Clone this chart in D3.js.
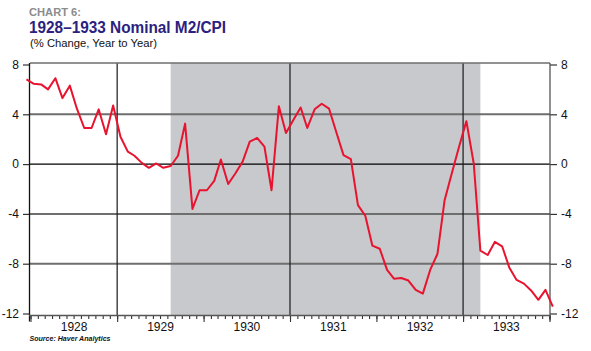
<!DOCTYPE html>
<html>
<head>
<meta charset="utf-8">
<script src="https://cdn.jsdelivr.net/npm/d3@7"></script>
<style>
  html, body { margin: 0; padding: 0; background: #fff; }
  svg { display: block; font-family: "Liberation Sans", Arial, sans-serif; }
</style>
</head>
<body>
<svg id="chart" width="591" height="351"></svg>
<script>
// ---- data (monthly, year-over-year % change, plotted mid-month) ----
const months = [
  "1927-12","1928-01","1928-02","1928-03","1928-04","1928-05","1928-06","1928-07","1928-08","1928-09","1928-10","1928-11","1928-12",
  "1929-01","1929-02","1929-03","1929-04","1929-05","1929-06","1929-07","1929-08","1929-09","1929-10","1929-11","1929-12",
  "1930-01","1930-02","1930-03","1930-04","1930-05","1930-06","1930-07","1930-08","1930-09","1930-10","1930-11","1930-12",
  "1931-01","1931-02","1931-03","1931-04","1931-05","1931-06","1931-07","1931-08","1931-09","1931-10","1931-11","1931-12",
  "1932-01","1932-02","1932-03","1932-04","1932-05","1932-06","1932-07","1932-08","1932-09","1932-10","1932-11","1932-12",
  "1933-01","1933-02","1933-03","1933-04","1933-05","1933-06","1933-07","1933-08","1933-09","1933-10","1933-11","1933-12",
  "1934-01"
];
const m2cpi = [
  6.8,
  6.45, 6.4, 6.0, 6.9, 5.3, 6.3, 4.45, 2.9, 2.9, 4.4, 2.4, 4.7,
  2.2, 1.0, 0.67, 0.1, -0.3, 0.05, -0.3, -0.15, 0.67, 3.25, -3.6, -2.1,
  -2.1, -1.35, 0.37, -1.6, -0.75, 0.2, 1.8, 2.1, 1.4, -2.1, 4.65, 2.5,
  3.55, 4.55, 2.9, 4.4, 4.85, 4.45, 2.6, 0.72, 0.4, -3.3, -4.15, -6.55,
  -6.8, -8.5, -9.2, -9.15, -9.35, -10.1, -10.4, -8.5, -7.2, -2.9, -0.7, 1.4,
  3.45, 0.05, -6.95, -7.3, -6.25, -6.6, -8.3, -9.3, -9.6, -10.15, -10.9, -10.1,
  -11.45
];
const recession = ["1929-08-15", "1933-03-15"];
const yTicks = [-12, -8, -4, 0, 4, 8];
const yearLabels = ["1928", "1929", "1930", "1931", "1932", "1933"];
const yearGridlines = ["1929", "1931", "1933"];

const titleSmall = "CHART 6:";
const titleMain = "1928\u20131933 Nominal M2/CPI";
const subtitle = "(% Change, Year to Year)";
const source = "Source: Haver Analytics";

// ---- layout ----
const svg = d3.select("#chart");
const pLeft = 30, pRight = 550, pTop = 63, pBottom = 315.5;

const parseM = d3.timeParse("%Y-%m");
const parseD = d3.timeParse("%Y-%m-%d");
const parseY = d3.timeParse("%Y");
const midMonth = s => { const d = parseM(s); return new Date(d.getFullYear(), d.getMonth(), 15); };

const x = d3.scaleTime()
  .domain([new Date(1928, 0, 1), new Date(1934, 0, 1)])
  .range([30.5, 549.5]);
const y = d3.scaleLinear().domain([-12, 8]).range([313.5, 64.5]);

const data = months.map((m, i) => ({ date: midMonth(m), value: m2cpi[i] }));

// recession shading
svg.append("rect")
  .attr("x", x(parseD(recession[0])))
  .attr("y", pTop)
  .attr("width", x(parseD(recession[1])) - x(parseD(recession[0])))
  .attr("height", pBottom - pTop)
  .attr("fill", "#c8c9cd");

// horizontal gridlines
const gridY = svg.append("g");
yTicks.filter(v => v !== -12 && v !== 8).forEach(v => {
  gridY.append("line")
    .attr("x1", pLeft).attr("x2", pRight)
    .attr("y1", y(v)).attr("y2", y(v))
    .attr("stroke", v === 0 ? "#000" : "#6e6e6e")
    .attr("stroke-width", v === 0 ? 1.2 : 2);
});

// vertical year gridlines
yearGridlines.forEach(yr => {
  const xv = x(parseY(yr));
  svg.append("line")
    .attr("x1", xv).attr("x2", xv)
    .attr("y1", pTop).attr("y2", pBottom)
    .attr("stroke", "#1a1a1a").attr("stroke-width", 1.2);
});

// top frame
svg.append("line")
  .attr("x1", pLeft).attr("x2", pRight)
  .attr("y1", pTop).attr("y2", pTop)
  .attr("stroke", "#6e6e6e").attr("stroke-width", 1.5);

// y axes
const fmt = d => d < 0 ? "-" + Math.abs(d) : String(d);
const yAxisL = svg.append("g")
  .attr("transform", `translate(${pLeft},0)`)
  .call(d3.axisLeft(y).tickValues(yTicks).tickSize(7).tickPadding(4).tickFormat(fmt));
const yAxisR = svg.append("g")
  .attr("transform", `translate(${pRight},0)`)
  .call(d3.axisRight(y).tickValues(yTicks).tickSize(7).tickPadding(4).tickFormat(fmt));
[yAxisL, yAxisR].forEach(g => {
  g.select(".domain").remove();
  g.selectAll(".tick line").attr("stroke", "#333").attr("stroke-width", 1.2);
  g.selectAll(".tick text").attr("font-size", "12px").attr("fill", "#111");
});
// axis vertical lines
svg.append("line").attr("x1", pLeft - 0.5).attr("x2", pLeft - 0.5)
  .attr("y1", pTop).attr("y2", pBottom + 6).attr("stroke", "#111").attr("stroke-width", 1.3);
svg.append("line").attr("x1", pRight).attr("x2", pRight)
  .attr("y1", pTop).attr("y2", pBottom + 5).attr("stroke", "#555").attr("stroke-width", 1.3);

// x axis: monthly minor ticks, yearly major ticks
const xAxisMinor = svg.append("g")
  .attr("transform", `translate(0,${pBottom})`)
  .call(d3.axisBottom(x).ticks(d3.timeMonth.every(1)).tickSize(3.5).tickFormat(""));
const xAxisMajor = svg.append("g")
  .attr("transform", `translate(0,${pBottom})`)
  .call(d3.axisBottom(x).ticks(d3.timeYear.every(1)).tickSize(6.5).tickFormat(""));
[xAxisMinor, xAxisMajor].forEach(g => {
  g.select(".domain").remove();
  g.selectAll(".tick line").attr("stroke", "#333").attr("stroke-width", 1.1);
});
svg.append("line").attr("x1", pLeft - 1).attr("x2", pRight + 0.5)
  .attr("y1", pBottom).attr("y2", pBottom)
  .attr("stroke", "#555").attr("stroke-width", 1.5);

// year labels at mid-year
const labAxis = svg.append("g")
  .attr("transform", `translate(0,${pBottom})`)
  .call(d3.axisBottom(x)
    .tickValues(yearLabels.map(s => new Date(+s, 6, 1)))
    .tickSize(0).tickPadding(7)
    .tickFormat((d, i) => yearLabels[i]));
labAxis.select(".domain").remove();
labAxis.selectAll(".tick text").attr("font-size", "12px").attr("fill", "#111");

// line
const line = d3.line().x(d => x(d.date)).y(d => y(d.value));
svg.append("path")
  .datum(data)
  .attr("d", line)
  .attr("fill", "none")
  .attr("stroke", "#e8132e")
  .attr("stroke-width", 2)
  .attr("stroke-linejoin", "round");

// titles
svg.append("text").attr("x", 29).attr("y", 16)
  .attr("font-size", "11.5px").attr("font-weight", "bold").attr("fill", "#8c8c8c")
  .attr("textLength", 52).attr("lengthAdjust", "spacingAndGlyphs")
  .text(titleSmall);
svg.append("text").attr("x", 29).attr("y", 33.3)
  .attr("font-size", "16px").attr("font-weight", "bold").attr("fill", "#2b2180")
  .attr("textLength", 197).attr("lengthAdjust", "spacingAndGlyphs")
  .text(titleMain);
svg.append("text").attr("x", 30).attr("y", 47)
  .attr("font-size", "11px").attr("fill", "#111")
  .attr("textLength", 127).attr("lengthAdjust", "spacingAndGlyphs")
  .text(subtitle);
svg.append("text").attr("x", 29.5).attr("y", 340.5)
  .attr("font-size", "7.5px").attr("font-weight", "bold").attr("font-style", "italic").attr("fill", "#111")
  .attr("textLength", 81).attr("lengthAdjust", "spacingAndGlyphs")
  .text(source);
</script>
</body>
</html>
